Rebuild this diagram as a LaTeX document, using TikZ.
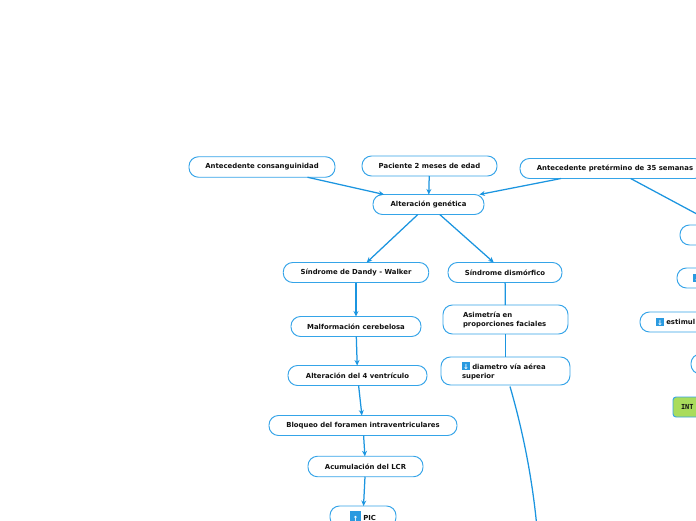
\documentclass[tikz,border=0pt]{standalone}
\usepackage{fontspec}
\setmainfont{DejaVu Sans}
\setmonofont{DejaVu Sans Mono}
\usetikzlibrary{arrows.meta}
\definecolor{edgeblue}{HTML}{1B95E0}
\definecolor{nodeblue}{HTML}{35A4E8}
\definecolor{iconblue}{HTML}{2A9AE0}
\definecolor{intgreen}{HTML}{A9DC5C}
\definecolor{inkblack}{HTML}{111111}
\newcommand{\myicon}[2]{{\setlength{\fboxsep}{0pt}\raisebox{-1.2pt}{\colorbox{iconblue}{\makebox[#1pt][c]{\rule[0pt]{0pt}{#1pt}\raisebox{0.8pt}{\textcolor{white}{\fontsize{7}{7}\selectfont #2}}}}}}}
\tikzset{
  topic/.style={draw=nodeblue,line width=0.95pt,fill=white,rounded corners=9.5pt,outer sep=0pt,
    inner sep=0pt,font=\fontsize{6.9}{9}\selectfont\bfseries,text=inkblack,align=center},
  sized/.style n args={2}{minimum width=#1 pt,minimum height=#2 pt},
  lefttext/.style n args={2}{inner xsep=#1 pt,text width=#2 pt,align=left},
  greentopic/.style={topic,fill=intgreen,rounded corners=3pt},
  arrowlink/.style={draw=edgeblue,line width=1.25pt,-{Stealth[length=5.5pt,width=5pt]}},
  plainlink/.style={draw=edgeblue,line width=1.25pt}
}
\begin{document}
\begin{tikzpicture}[x=1pt,y=1pt]
\useasboundingbox (0,0) rectangle (696,-520);
\clip (0,0) rectangle (696,-520);
\fill[white] (0,0) rectangle (696,-520);
% nodes
\node[topic,sized={146}{20.5}] (cons) at (262,-167) {Antecedente consanguinidad};
\node[topic,sized={135}{20}] (pac) at (429.5,-166) {Paciente 2 meses de edad};
\node[topic,sized={184}{20}] (pre) at (612,-168.5) {\hspace{6pt}Antecedente pretérmino de 35 semanas};
\node[topic,sized={111}{20}] (gen) at (428.5,-204.5) {Alteración genética};
\node[topic,sized={145.5}{20}] (dw) at (356,-272.5) {Síndrome de Dandy - Walker};
\node[topic,sized={114}{20}] (dis) at (505,-272.5) {Síndrome dismórfico};
\node[topic,sized={130}{20}] (mal) at (356,-326.5) {Malformación cerebelosa};
\node[topic,sized={139}{20}] (ven) at (357.5,-375.5) {Alteración del 4 ventrículo};
\node[topic,sized={188}{20}] (blo) at (363,-425.5) {Bloqueo del foramen intraventriculares};
\node[topic,sized={115}{20.5}] (acu) at (365.5,-466.5) {Acumulación del LCR};
\node[topic,sized={66}{21}] (pic) at (363,-516.5) {\myicon{11}{↑} PIC};
\node[topic,sized={125}{29},lefttext={20}{85}] (asi) at (505.5,-319.5) {Asimetría en\\proporciones faciales};
\node[topic,sized={129}{28},lefttext={21}{87}] (dia) at (505.5,-371) {\myicon{8}{↓} diametro vía aérea\\superior};
\node[topic,sized={112}{20}] (ra) at (736,-235) {};
\node[topic,sized={120}{20},lefttext={16}{88}] (rb) at (737,-278) {\myicon{8}{↓}};
\node[topic,sized={120}{20},lefttext={16}{88}] (est) at (700,-322) {\myicon{8}{↓} estimul};
\node[topic,sized={120}{20}] (rc) at (751,-364) {};
\node[greentopic,sized={60}{20},lefttext={8}{44}] (int) at (703,-407) {\ttfamily\bfseries INT};
\coordinate (diaout) at (510,-386.5);
\coordinate (down) at (537,-528);
% connectors
\draw[arrowlink] (cons) -- (gen);
\draw[arrowlink] (pac) -- (gen);
\draw[arrowlink] (pre) -- (gen);
\draw[plainlink] (pre) -- (ra);
\draw[arrowlink] (gen) -- (dw);
\draw[arrowlink] (gen) -- (dis);
\draw[arrowlink] (dw) -- (mal);
\draw[arrowlink] (mal) -- (ven);
\draw[arrowlink] (ven) -- (blo);
\draw[arrowlink] (blo) -- (acu);
\draw[arrowlink] (acu) -- (pic);
\draw[plainlink] (dis) -- (asi);
\draw[plainlink] (asi) -- (dia);
\draw[plainlink] (diaout) .. controls (522,-428) and (532,-475) .. (down);
\end{tikzpicture}
\end{document}
